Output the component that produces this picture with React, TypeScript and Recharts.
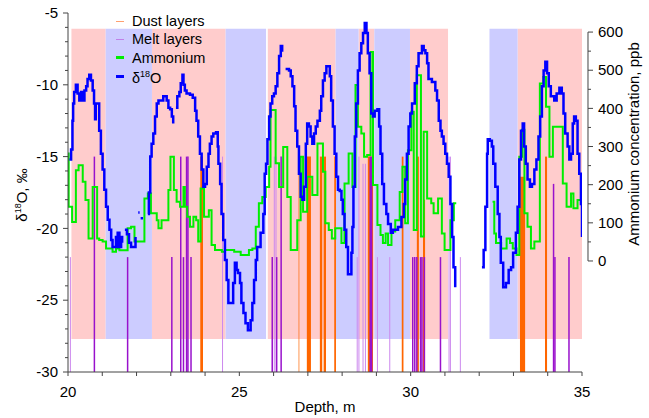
import React from 'react';
import { ComposedChart, Line, XAxis, YAxis, ReferenceArea, ReferenceLine } from 'recharts';

const FONT = '"Liberation Sans", Arial, sans-serif';

// δ18O profile: [depth m, ‰]; null marks a break in the record
const o18Points: [number, number | null][] = [
  [20.04, -15.2], [20.09, -14.5], [20.13, -12.5], [20.15, -11.3], [20.18, -10.5], [20.23, -10.0], [20.28, -10.6],
  [20.33, -11.1], [20.38, -10.5], [20.43, -11.1], [20.48, -10.4], [20.53, -10.1], [20.57, -9.6], [20.62, -9.3],
  [20.67, -9.7], [20.72, -10.4], [20.76, -11.3], [20.79, -12.4], [20.81, -11.3], [20.86, -11.3], [20.91, -13.2],
  [20.96, -14.8], [21.01, -15.9], [21.06, -17.3], [21.11, -18.5], [21.16, -19.4], [21.21, -20.1], [21.26, -20.8],
  [21.3, -21.3], [21.35, -21.3], [21.4, -20.6], [21.42, -21.3], [21.45, -20.3], [21.5, -21.3], [21.55, -20.6],
  [21.58, -21.0], [21.6, null], [21.66, -20.1], [21.72, -20.4], [21.78, -21.0], [21.84, -21.3], [21.9, -21.3],
  [21.97, -20.6], [22.0, null], [22.05, -18.9], [22.09, -18.9], [22.1, null], [22.12, -19.3], [22.19, -19.3],
  [22.2, null], [22.33, -19.0], [22.36, -17.5], [22.4, -15.0], [22.44, -14.1], [22.49, -13.4], [22.54, -12.2],
  [22.59, -11.3], [22.64, -11.1], [22.73, -11.1], [22.78, -10.8], [22.88, -11.1], [22.93, -11.6], [22.98, -11.7],
  [23.03, -12.2], [23.07, -12.7], [23.1, null], [23.15, -11.6], [23.19, -10.8], [23.25, -10.5], [23.29, -9.9],
  [23.34, -9.3], [23.37, -10.0], [23.41, -10.4], [23.46, -10.6], [23.56, -10.7], [23.64, -10.9], [23.71, -11.8],
  [23.75, -12.5], [23.8, -13.6], [23.85, -14.8], [23.9, -15.9], [23.95, -17.1], [24.0, -16.9], [24.05, -15.7],
  [24.1, -14.8], [24.14, -14.1], [24.19, -13.6], [24.24, -13.4], [24.32, -13.3], [24.37, -14.3], [24.39, -15.5],
  [24.44, -16.9], [24.48, -19.0], [24.53, -20.8], [24.58, -22.2], [24.63, -23.6], [24.68, -25.2], [24.78, -25.2],
  [24.82, -23.8], [24.87, -22.4], [24.92, -22.9], [24.96, -23.1], [25.02, -23.8], [25.06, -25.2], [25.12, -25.9],
  [25.18, -26.6], [25.25, -27.1], [25.33, -26.4], [25.38, -25.2], [25.43, -23.6], [25.48, -22.2], [25.52, -21.3],
  [25.62, -20.3], [25.7, -19.0], [25.74, -16.2], [25.78, -15.5], [25.82, -13.8], [25.87, -12.2], [25.91, -11.3],
  [25.96, -10.8], [26.01, -10.6], [26.06, -10.1], [26.11, -9.2], [26.16, -8.0], [26.21, -7.3], [26.25, -7.7],
  [26.3, null], [26.35, -8.9], [26.45, -9.0], [26.5, -9.4], [26.55, -10.1], [26.6, -11.5], [26.64, -13.2],
  [26.69, -14.3], [26.74, -16.2], [26.79, -17.8], [26.84, -18.0], [26.89, -17.1], [26.94, -14.1], [26.98, -12.7],
  [27.03, -12.9], [27.08, -13.6], [27.13, -14.1], [27.18, -13.4], [27.23, -12.9], [27.28, -12.5], [27.35, -11.8],
  [27.39, -10.8], [27.44, -9.7], [27.49, -9.2], [27.54, -8.7], [27.59, -8.7], [27.64, -9.4], [27.68, -11.1],
  [27.73, -12.9], [27.78, -14.8], [27.83, -16.4], [27.88, -17.3], [27.93, -17.4], [27.98, -18.0], [28.02, -19.0],
  [28.07, -20.1], [28.12, -21.3], [28.17, -23.2], [28.25, -23.2], [28.27, -21.7], [28.3, -19.9], [28.33, -17.1],
  [28.37, -13.6], [28.41, -11.3], [28.46, -9.0], [28.51, -7.8], [28.56, -7.1], [28.61, -6.4], [28.66, -5.7],
  [28.71, -6.4], [28.75, -7.8], [28.8, -9.2], [28.85, -12.0], [28.9, -12.2], [28.95, -11.8], [29.03, -11.7],
  [29.08, -12.9], [29.12, -14.8], [29.17, -16.9], [29.22, -18.3], [29.29, -19.0], [29.34, -19.7], [29.42, -20.3],
  [29.48, -20.1], [29.55, -20.1], [29.63, -19.9], [29.73, -19.2], [29.8, -18.3], [29.84, -16.6], [29.89, -14.8],
  [29.94, -12.9], [29.99, -12.0], [30.04, -11.3], [30.12, -9.9], [30.18, -8.7], [30.23, -7.8], [30.33, -7.3],
  [30.38, -7.6], [30.43, -7.8], [30.48, -8.5], [30.52, -9.6], [30.62, -9.8], [30.72, -10.4], [30.77, -11.1],
  [30.82, -12.5], [30.87, -13.2], [30.91, -13.6], [30.96, -14.1], [31.01, -14.8], [31.06, -15.5], [31.11, -16.4],
  [31.16, -18.3], [31.21, -20.6], [31.25, -22.7], [31.3, -24.1], [31.33, null], [32.08, -22.7], [32.13, -21.5],
  [32.18, -18.5], [32.23, -14.8], [32.25, -13.8], [32.31, -13.9], [32.37, -14.3], [32.41, -15.5], [32.47, -17.1],
  [32.54, -19.0], [32.59, -20.6], [32.63, -22.4], [32.7, -24.1], [32.78, -23.8], [32.86, -22.9], [32.93, -22.7],
  [32.99, -21.7], [33.07, -20.3], [33.12, -18.5], [33.17, -15.2], [33.22, -13.2], [33.27, -12.7], [33.31, -14.3],
  [33.36, -15.5], [33.41, -16.6], [33.48, -17.1], [33.54, -16.9], [33.61, -15.9], [33.67, -15.2], [33.73, -13.6],
  [33.78, -12.2], [33.83, -10.1], [33.88, -9.0], [33.93, -8.4], [33.98, -9.2], [34.03, -10.1], [34.09, -10.8],
  [34.19, -11.1], [34.26, -10.6], [34.34, -10.2], [34.41, -10.6], [34.46, -12.0], [34.51, -13.4], [34.58, -14.3],
  [34.63, -15.2], [34.68, -14.8], [34.73, -12.7], [34.77, -12.2], [34.82, -12.5], [34.87, -14.8], [34.92, -16.2],
  [34.97, -18.3], [35.0, -20.6],
];

// ammonium: [depth m, ppb]
const nh4Points: [number, number | null][] = [
  [20.0, 282], [20.02, 142], [20.12, 102], [20.23, 238], [20.31, 251], [20.43, 208], [20.51, 160], [20.6, 59],
  [20.72, 194], [20.85, 59], [20.91, 55], [21.01, 51], [21.11, 33], [21.3, 24], [21.4, 33], [21.5, 28],
  [21.74, 86], [21.84, 90], [21.94, 51], [22.23, 164], [22.33, 177], [22.42, 125], [22.59, 107], [22.64, 86],
  [22.73, 107], [22.93, 186], [22.99, 273], [23.09, 186], [23.17, 155], [23.27, 142], [23.37, 194], [23.41, 142],
  [23.48, 116], [23.56, 90], [23.66, 116], [23.74, 107], [23.8, 51], [23.87, 190], [23.97, 116], [24.11, 133],
  [24.19, 42], [24.29, 29], [24.49, 24], [24.58, 29], [24.85, 24], [25.04, 16], [25.28, 29], [25.38, 33],
  [25.48, 90], [25.57, 151], [25.67, 168], [25.77, 194], [25.87, 247], [25.91, 396], [26.06, 256], [26.16, 194],
  [26.28, 299], [26.4, 168], [26.5, 29], [26.69, 107], [26.79, 273], [26.86, 129], [26.98, 221], [27.13, 173],
  [27.28, 308], [27.44, 234], [27.51, 99], [27.61, 81], [27.7, 59], [27.8, 86], [27.98, 47], [28.07, 203],
  [28.19, 282], [28.3, 194], [28.39, 461], [28.46, 352], [28.56, 334], [28.64, 273], [28.73, 278], [28.83, 548],
  [28.9, 199], [29.03, 94], [29.12, 68], [29.19, 47], [29.27, 72], [29.34, 42], [29.44, 77], [29.55, 107],
  [29.68, 181], [29.76, 247], [29.84, 99], [29.92, 290], [30.02, 391], [30.09, 81], [30.18, 487], [30.3, 64],
  [30.38, 339], [30.48, 164], [30.6, 151], [30.67, 125], [30.8, 164], [30.91, 72], [30.99, 29], [31.16, 107],
  [31.26, 151], [31.33, 151], [31.34, null], [32.39, 155], [32.44, 72], [32.49, 47], [32.64, 33], [32.8, 59],
  [32.9, 47], [32.98, 33], [33.09, 16], [33.17, 273], [33.25, 344], [33.32, 125], [33.41, 90], [33.51, 33],
  [33.61, 51], [33.77, 465], [33.87, 482], [33.95, 404], [34.05, 273], [34.15, 352], [34.44, 203], [34.55, 142],
  [34.68, 177], [34.75, 138], [34.87, 160], [35.0, 160],
];

// seasonal shading [from, to] in m
const summerBands = [[20.1, 21.1], [22.45, 24.6], [25.83, 27.81], [28.48, 28.94], [29.98, 31.09], [33.12, 35.0]];
const winterBands = [[21.1, 22.45], [24.6, 25.78], [27.81, 28.48], [28.94, 29.98], [32.3, 33.12]];
const bandTop = -6.1;
const bandBottom = -27.7;

// dust layers: [from, to, top ‰]
const dustLayers = [
  [23.86, 23.94, -15], [26.73, 26.75, -15], [26.97, 27.09, -15], [27.35, 27.42, -15], [27.46, 27.53, -15],
  [27.77, 27.82, -15], [28.75, 28.9, -15], [29.74, 29.79, -15], [30.18, 30.24, -15], [30.36, 30.42, -18],
  [33.19, 33.34, -16.4], [33.92, 33.98, -15],
];

// melt layers: [depth, top ‰, faint 1/0]
const meltLayers = [
  [20.07, -22, 1], [20.77, -15, 0], [21.74, -22, 0], [23.03, -22, 0], [23.29, -15, 0], [23.37, -22, 0],
  [23.46, -15, 0], [23.5, -15, 0], [23.59, -22, 0], [24.51, -15, 1], [25.96, -22, 0], [26.02, -15, 1],
  [26.07, -15, 1], [26.09, -22, 0], [26.22, -15, 0], [28.44, -22, 1], [28.49, -15, 1], [28.61, -15.5, 1],
  [28.68, -15.5, 1], [28.82, -15, 0], [28.86, -15, 0], [29.03, -22, 1], [29.39, -22, 1], [30.06, -22, 0],
  [30.12, -22, 0], [30.18, -22, 0], [30.29, -22, 0], [30.33, -22, 0], [30.4, -22, 0], [30.87, -22, 0],
  [31.12, -15, 1], [31.16, -15, 1], [31.45, -22, 1], [34.17, -16.9, 0], [34.21, -22, 0], [34.62, -22, 0],
];

const xTicks = [20, 21, 22, 23, 24, 25, 26, 27, 28, 29, 30, 31, 32, 33, 34, 35];
const o18Ticks = [-30, -29, -28, -27, -26, -25, -24, -23, -22, -21, -20, -19, -18, -17, -16, -15, -14, -13, -12, -11, -10, -9, -8, -7, -6, -5];
const nh4Ticks = [0, 50, 100, 150, 200, 250, 300, 350, 400, 450, 500, 550, 600];

const o18Data = o18Points.map(([d, v]) => ({ d, v }));
const nh4Data = nh4Points.map(([d, a]) => ({ d, a }));

const AXIS = '#444';

function XTick({ x, y, payload }: any) {
  return (
    <g>
      <line x1={x} x2={x} y1={y} y2={y + 4} stroke={AXIS} />
      {payload.value % 5 === 0 && (
        <text x={x} y={y + 25} textAnchor="middle" fontSize={15} fontFamily={FONT} fill="#000">{payload.value}</text>
      )}
    </g>
  );
}

function LeftTick({ x, y, payload }: any) {
  const major = payload.value % 5 === 0;
  return (
    <g>
      <line x1={x - (major ? 5 : 3)} x2={x} y1={y} y2={y} stroke={AXIS} />
      {major && (
        <text x={x - 10} y={y} dy="0.35em" textAnchor="end" fontSize={15} fontFamily={FONT} fill="#000">{payload.value}</text>
      )}
    </g>
  );
}

function RightTick({ x, y, payload }: any) {
  const major = payload.value % 100 === 0;
  return (
    <g>
      <line x1={x + 6} x2={x + (major ? 11 : 9)} y1={y} y2={y} stroke={AXIS} />
      {major && (
        <text x={x + 16} y={y} dy="0.35em" textAnchor="start" fontSize={15} fontFamily={FONT} fill="#000">{payload.value}</text>
      )}
    </g>
  );
}

const legendItems = [
  { label: 'Dust layers', color: '#ffa070', w: 1 },
  { label: 'Melt layers', color: '#c080e8', w: 1.5 },
  { label: 'Ammonium', color: '#00ee00', w: 3 },
  { label: 'O18', color: '#0000ff', w: 3 },
];

export default function App() {
  return (
    <div style={{ position: 'absolute', left: 0, top: 0, width: 649, height: 418, background: '#fff', fontFamily: FONT }}>
      <ComposedChart width={649} height={418} margin={{ top: 13, right: 7, bottom: 16, left: 8 }}>
        <XAxis xAxisId="x" type="number" dataKey="d" domain={[20, 35]} ticks={xTicks} interval={0} allowDataOverflow
          height={30} tickSize={0} tickMargin={0} tickLine={false} axisLine={{ stroke: AXIS }} tick={XTick} />
        <YAxis yAxisId="o" type="number" domain={[-30, -5]} ticks={o18Ticks} interval={0} allowDataOverflow width={60}
          tickSize={0} tickMargin={0} tickLine={false} axisLine={{ stroke: AXIS }} tick={LeftTick} />
        <YAxis yAxisId="a" orientation="right" type="number" domain={[-291, 650]} ticks={nh4Ticks} interval={0}
          allowDataOverflow width={60} tickSize={0} tickMargin={0} tickLine={false} axisLine={false} tick={RightTick} />

        {summerBands.map(([a, b]) => (
          <ReferenceArea key={'s' + a} xAxisId="x" yAxisId="o" x1={a} x2={b} y1={bandBottom} y2={bandTop}
            fill="#ffcccc" fillOpacity={1} stroke="none" />
        ))}
        {winterBands.map(([a, b]) => (
          <ReferenceArea key={'w' + a} xAxisId="x" yAxisId="o" x1={a} x2={b} y1={bandBottom} y2={bandTop}
            fill="#ccccff" fillOpacity={1} stroke="none" />
        ))}
        {dustLayers.map(([a, b, top]) => (
          <ReferenceArea key={'d' + a} xAxisId="x" yAxisId="o" x1={a} x2={b} y1={-30} y2={top}
            fill="#ff6600" fillOpacity={1} stroke="none" />
        ))}
        {meltLayers.map(([d, top, faint]) => (
          <ReferenceLine key={'m' + d} xAxisId="x" yAxisId="o" segment={[{ x: d, y: -30 }, { x: d, y: top }]}
            stroke={faint ? '#cc88ee' : '#9911cc'} strokeWidth={faint ? 1 : 1.5} />
        ))}
        <ReferenceLine xAxisId="x" yAxisId="a" ifOverflow="visible" segment={[{ x: 35.175, y: 0 }, { x: 35.175, y: 600 }]}
          stroke={AXIS} />

        <Line xAxisId="x" yAxisId="a" data={nh4Data} dataKey="a" type="stepAfter" stroke="#00ee00" strokeWidth={2}
          dot={false} activeDot={false} connectNulls={false} isAnimationActive={false} />
        <Line xAxisId="x" yAxisId="o" data={o18Data} dataKey="v" type="stepAfter" stroke="#0000ff" strokeWidth={2.5}
          dot={false} activeDot={false} connectNulls={false} isAnimationActive={false} />
      </ComposedChart>

      <div style={{ position: 'absolute', left: 116, top: 12, fontSize: 14.5, lineHeight: '18.3px', color: '#000' }}>
        {legendItems.map((it) => (
          <div key={it.label} style={{ display: 'flex', alignItems: 'center', height: 18.3 }}>
            <span style={{ display: 'inline-block', width: 8, height: it.w, background: it.color, marginRight: 8 }} />
            {it.label === 'O18' ? <span>δ<sup style={{ fontSize: 9 }}>18</sup>O</span> : it.label}
          </div>
        ))}
      </div>

      <div style={{ position: 'absolute', left: 20 - 100, top: 193 - 9, width: 200, textAlign: 'center', fontSize: 15,
        lineHeight: '18px', transform: 'rotate(-90deg)' }}>
        δ<sup style={{ fontSize: 9 }}>18</sup>O, ‰
      </div>
      <div style={{ position: 'absolute', left: 634 - 130, top: 144 - 9, width: 260, textAlign: 'center', fontSize: 15,
        lineHeight: '18px', transform: 'rotate(-90deg)' }}>
        Ammonium concentration, ppb
      </div>
      <div style={{ position: 'absolute', left: 225, top: 398, width: 200, textAlign: 'center', fontSize: 15, lineHeight: '18px' }}>
        Depth, m
      </div>
    </div>
  );
}
